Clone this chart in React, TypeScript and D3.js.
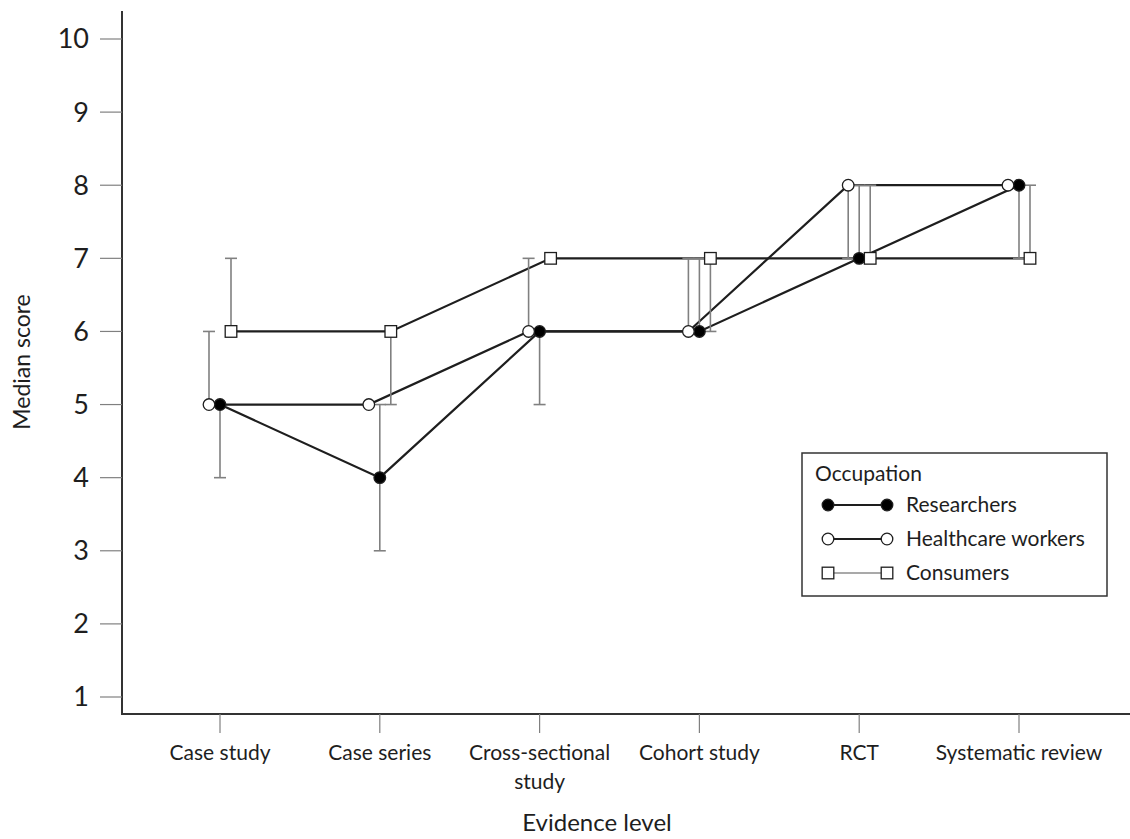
import React from "react";
import { scaleLinear, scalePoint, line } from "d3";

const width = 1130;
const height = 839;
const margin = { top: 11, left: 122, bottom: 714 };

const categories = [
  "Case study",
  "Case series",
  "Cross-sectional study",
  "Cohort study",
  "RCT",
  "Systematic review",
];
const yTicks = [1, 2, 3, 4, 5, 6, 7, 8, 9, 10];

const researchers = [5, 4, 6, 6, 7, 8];
const researchersLow = [4, 3, 5, 6, 7, 7];
const researchersHigh = [5, 5, 6, 7, 8, 8];

const healthcare = [5, 5, 6, 6, 8, 8];
const healthcareLow = [5, 5, 6, 6, 7, 8];
const healthcareHigh = [6, 5, 7, 7, 8, 8];

const consumers = [6, 6, 7, 7, 7, 7];
const consumersLow = [6, 5, 7, 6, 7, 7];
const consumersHigh = [7, 6, 7, 7, 8, 8];

const series = [
  { name: "Researchers", values: researchers, low: researchersLow, high: researchersHigh, shape: "filled" },
  { name: "Healthcare workers", values: healthcare, low: healthcareLow, high: healthcareHigh, shape: "open" },
  { name: "Consumers", values: consumers, low: consumersLow, high: consumersHigh, shape: "square" },
];

const font = "Lato, 'Open Sans', sans-serif";
const ink = "#1e1e1e";
const errColor = "#808080";

const x = scalePoint<string>().domain(categories).range([220, 1019]);
const offset = scalePoint<string>()
  .domain(["Healthcare workers", "Researchers", "Consumers"])
  .range([-11, 11]);
const y = scaleLinear().domain([1, 10]).range([697, 39]);

function Marker({ shape, cx, cy }: { shape: string; cx: number; cy: number }) {
  if (shape === "square")
    return <rect x={cx - 5.8} y={cy - 5.8} width={11.6} height={11.6} fill="#fff" stroke={ink} strokeWidth={1.3} />;
  return (
    <circle cx={cx} cy={cy} r={5.8} fill={shape === "filled" ? "#000" : "#fff"} stroke={ink} strokeWidth={1.3} />
  );
}

export default function App() {
  const cap = 6;
  return (
    <svg width={width} height={height} style={{ position: "absolute", left: 0, top: 0, background: "#fff" }}>
      {/* axes */}
      <line x1={margin.left} x2={margin.left} y1={margin.top} y2={margin.bottom} stroke="#333" strokeWidth={2} />
      <line x1={margin.left - 1} x2={width} y1={margin.bottom} y2={margin.bottom} stroke="#333" strokeWidth={2} />
      {yTicks.map((t) => (
        <g key={t}>
          <line x1={margin.left - 22} x2={margin.left} y1={y(t)} y2={y(t)} stroke={errColor} strokeWidth={1.2} />
          <text x={89} y={y(t)} dy="0.35em" textAnchor="end" fontSize={27} fontFamily={font} fill={ink}>
            {t}
          </text>
        </g>
      ))}
      {categories.map((c) => {
        const words = c === "Cross-sectional study" ? ["Cross-sectional", "study"] : [c];
        return (
          <g key={c}>
            <line x1={x(c)} x2={x(c)} y1={margin.bottom} y2={733} stroke={errColor} strokeWidth={1.2} />
            {words.map((w, i) => (
              <text key={w} x={x(c)} y={760 + i * 29} textAnchor="middle" fontSize={21} fontFamily={font} fill={ink}>
                {w}
              </text>
            ))}
          </g>
        );
      })}
      <text x={597} y={831} textAnchor="middle" fontSize={24} fontFamily={font} fill={ink}>
        Evidence level
      </text>
      <text
        transform={`translate(30, 362) rotate(-90)`}
        textAnchor="middle"
        fontSize={23}
        fontFamily={font}
        fill={ink}
      >
        Median score
      </text>

      {/* lines */}
      {series.map((s) => {
        const path = line<number>()
          .x((_, i) => (x(categories[i]) as number) + (offset(s.name) as number))
          .y((d) => y(d))(s.values);
        return <path key={s.name} d={path || ""} fill="none" stroke={ink} strokeWidth={2.2} />;
      })}

      {/* error bars */}
      {series.map((s) =>
        s.values.map((v, i) => {
          const cx = (x(categories[i]) as number) + (offset(s.name) as number);
          const lo = s.low[i];
          const hi = s.high[i];
          if (lo === hi) return null;
          return (
            <g key={`${s.name}-${i}`} stroke={errColor} strokeWidth={1.6}>
              <line x1={cx} x2={cx} y1={y(lo)} y2={y(hi)} />
              {lo !== v && <line x1={cx - cap} x2={cx + cap} y1={y(lo)} y2={y(lo)} />}
              {hi !== v && <line x1={cx - cap} x2={cx + cap} y1={y(hi)} y2={y(hi)} />}
            </g>
          );
        })
      )}

      {/* markers */}
      {series.map((s) =>
        s.values.map((v, i) => (
          <Marker
            key={`${s.name}-m-${i}`}
            shape={s.shape}
            cx={(x(categories[i]) as number) + (offset(s.name) as number)}
            cy={y(v)}
          />
        ))
      )}

      {/* legend */}
      <g>
        <rect x={802} y={453} width={305} height={143} fill="#fff" stroke="#333" strokeWidth={1.5} />
        <text x={815} y={481} fontSize={21} fontFamily={font} fill={ink}>
          Occupation
        </text>
        {series.map((s, i) => {
          const ly = 505 + i * 34;
          return (
            <g key={s.name}>
              <line x1={828} x2={887} y1={ly} y2={ly} stroke={s.shape === "square" ? "#555" : ink} strokeWidth={s.shape === "square" ? 1.2 : 1.8} />
              <Marker shape={s.shape} cx={828} cy={ly} />
              <Marker shape={s.shape} cx={887} cy={ly} />
              <text x={906} y={ly} dy="0.35em" fontSize={21} fontFamily={font} fill={ink}>
                {s.name}
              </text>
            </g>
          );
        })}
      </g>
    </svg>
  );
}
